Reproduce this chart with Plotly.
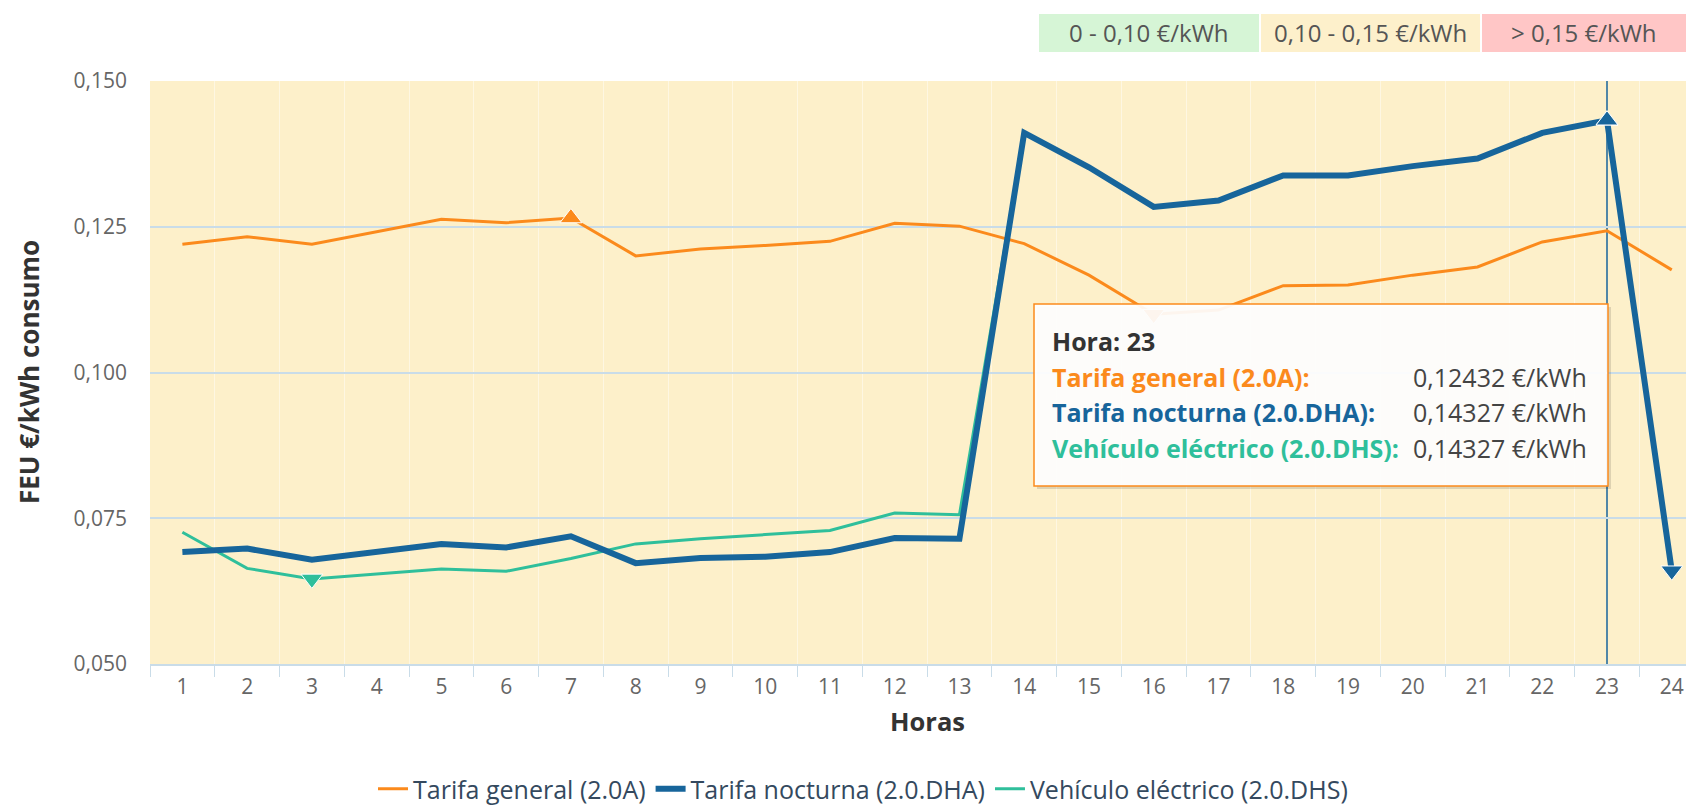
import numpy as np
import plotly.graph_objects as go

# ---------------- data ----------------
hours = [str(h) for h in range(1, 25)]
tarifa_general = [0.1220, 0.1233, 0.1220, 0.1241, 0.1263, 0.1257, 0.1265, 0.1200,
                  0.1212, 0.1218, 0.1225, 0.1256, 0.1251, 0.1221, 0.1167, 0.1100,
                  0.1107, 0.1149, 0.1150, 0.1167, 0.1181, 0.1224, 0.12432, 0.1176]
tarifa_nocturna = [0.0692, 0.0698, 0.0679, 0.0693, 0.0706, 0.0700, 0.0719, 0.0673,
                   0.0682, 0.0684, 0.0692, 0.0716, 0.0715, 0.1411, 0.1352, 0.1284,
                   0.1295, 0.1338, 0.1338, 0.1354, 0.1367, 0.1411, 0.14327, 0.0660]
vehiculo_electrico = [0.0726, 0.0664, 0.0646, 0.0655, 0.0663, 0.0659, 0.0681, 0.0706,
                      0.0715, 0.0722, 0.0729, 0.0759, 0.0756, 0.1411, 0.1352, 0.1284,
                      0.1295, 0.1338, 0.1338, 0.1354, 0.1367, 0.1411, 0.14327, 0.0660]
series_names = ["Tarifa general (2.0A)", "Tarifa nocturna (2.0.DHA)", "Vehículo eléctrico (2.0.DHS)"]
y_ticks = [0.050, 0.075, 0.100, 0.125, 0.150]
band_labels = ["0 - 0,10 €/kWh", "0,10 - 0,15 €/kWh", "> 0,15 €/kWh"]
hover_hour = "23"

# ---------------- style ----------------
ORANGE = "#fb8a1c"
BLUE = "#17659b"
GREEN = "#2fbf9b"
PLOT_BG = "#fdf0ca"
GRID = "#c9dce8"
FONT = "Open Sans"
W, H = 1686, 808
ML, MR, MT, MB = 150, 0, 81, 144
PW, PH = W - ML - MR, H - MT - MB


def px(xp):
    return (xp - ML) / PW


def py(yp):
    return (H - MB - yp) / PH


fig = go.Figure()

series = [
    (series_names[0], tarifa_general, ORANGE, 3, 1),
    (series_names[2], vehiculo_electrico, GREEN, 3, 3),
    (series_names[1], tarifa_nocturna, BLUE, 6, 2),
]
for name, vals, col, w, rank in series:
    fig.add_trace(go.Scatter(x=hours, y=vals, name=name, mode="lines",
                             line=dict(color=col, width=w), legendrank=rank,
                             hoverinfo="skip"))

# min / max markers
for name, vals, col, w, rank in series:
    arr = np.array(vals)
    imax, imin = int(arr.argmax()), int(arr.argmin())
    fig.add_trace(go.Scatter(x=[hours[imax]], y=[vals[imax]], mode="markers",
                             marker=dict(symbol="triangle-up", size=19, color=col,
                                         line=dict(color="white", width=1)),
                             showlegend=False, hoverinfo="skip"))
    fig.add_trace(go.Scatter(x=[hours[imin]], y=[vals[imin]], mode="markers",
                             marker=dict(symbol="triangle-down", size=19, color=col,
                                         line=dict(color="white", width=1)),
                             showlegend=False, hoverinfo="skip"))

hi = hours.index(hover_hour)
shapes = []
# crosshair
shapes.append(dict(type="line", xref="x", yref="paper", x0=hi, x1=hi,
                   y0=0, y1=1, line=dict(color=BLUE, width=1.5), layer="below"))
# top range boxes
box_cols = ["#d6f5d6", "#fdf0cb", "#ffc6c6"]
box_px = [(1039, 1259), (1261, 1480), (1482, 1686)]
annotations = []
for (x0, x1), c, lab in zip(box_px, box_cols, band_labels):
    shapes.append(dict(type="rect", xref="paper", yref="paper", x0=px(x0), x1=px(x1),
                       y0=py(52), y1=py(14), fillcolor=c, line=dict(width=0)))
    annotations.append(dict(xref="paper", yref="paper", x=px((x0 + x1) / 2), y=py(33),
                            text=lab, showarrow=False, xanchor="center", yanchor="middle",
                            font=dict(family=FONT, size=24, color="#555555")))

# tooltip
tx0, tx1, ty0, ty1 = 1034, 1608, 304, 486
shapes.append(dict(type="rect", xref="paper", yref="paper", x0=px(tx0 + 3), x1=px(tx1 + 3),
                   y0=py(ty1 + 3), y1=py(ty0 + 3), fillcolor="rgba(0,0,0,0.12)",
                   line=dict(width=0)))
shapes.append(dict(type="rect", xref="paper", yref="paper", x0=px(tx0), x1=px(tx1),
                   y0=py(ty1), y1=py(ty0), fillcolor="rgba(255,255,255,0.93)",
                   line=dict(color=ORANGE, width=1.5)))

annotations.append(dict(xref="paper", yref="paper", x=px(1050), y=py(341),
                        text="<b>Hora: " + hover_hour + "</b>", showarrow=False,
                        xanchor="left", yanchor="middle",
                        font=dict(family=FONT, size=25, color="#333333")))
rows = [(series_names[0], tarifa_general, ORANGE),
        (series_names[1], tarifa_nocturna, BLUE),
        (series_names[2], vehiculo_electrico, GREEN)]
for k, (name, vals, col) in enumerate(rows):
    yy = 376.5 + k * 35.5
    annotations.append(dict(xref="paper", yref="paper", x=px(1050), y=py(yy),
                            text="<b>" + name + ":</b>", showarrow=False,
                            xanchor="left", yanchor="middle",
                            font=dict(family=FONT, size=25, color=col)))
    annotations.append(dict(xref="paper", yref="paper", x=px(1589), y=py(yy),
                            text=f"{vals[hi]:.5f}".replace(".", ",") + " €/kWh",
                            showarrow=False, xanchor="right", yanchor="middle",
                            font=dict(family=FONT, size=25, color="#444444")))

# axis titles
annotations.append(dict(xref="paper", yref="paper", x=px(927), y=py(721), text="<b>Horas</b>",
                        showarrow=False, xanchor="center", yanchor="middle",
                        font=dict(family=FONT, size=25.5, color="#333333")))
annotations.append(dict(xref="paper", yref="paper", x=px(29), y=py(372),
                        text="<b>FEU €/kWh consumo</b>", textangle=-90,
                        showarrow=False, xanchor="center", yanchor="middle",
                        font=dict(family=FONT, size=26, color="#333333")))

fig.update_layout(
    width=W, height=H,
    margin=dict(l=ML, r=MR, t=MT, b=MB, pad=0, autoexpand=False),
    paper_bgcolor="white", plot_bgcolor=PLOT_BG,
    separators=",.",
    font=dict(family=FONT, color="#666666"),
    shapes=shapes, annotations=annotations,
    hovermode=False,
    legend=dict(orientation="h", x=px(863), xanchor="center", y=py(789), yanchor="middle",
                font=dict(family=FONT, size=25, color="#34495e"), itemwidth=30,
                bgcolor="rgba(0,0,0,0)"),
    xaxis=dict(type="category", categoryorder="array", categoryarray=hours,
               range=[-0.5, 23.22], tickson="boundaries", ticks="outside", ticklen=11,
               tickcolor=GRID, showline=True, linecolor=GRID, linewidth=1.5,
               showgrid=True, gridcolor="rgba(255,255,255,0.45)", gridwidth=1,
               ticklabelstandoff=3,
               tickfont=dict(family=FONT, size=21, color="#666666"), fixedrange=True),
    yaxis=dict(range=[0.05, 0.15], tickvals=y_ticks, tickformat=".3f",
               showgrid=True, gridcolor=GRID, gridwidth=1.5, zeroline=False,
               showline=False, ticks="", ticklabelstandoff=22,
               tickfont=dict(family=FONT, size=21, color="#666666"), fixedrange=True),
)

fig.write_html("out.html", config={"displayModeBar": False},
               post_script="document.body.style.margin='0';document.body.style.overflow='hidden';")
